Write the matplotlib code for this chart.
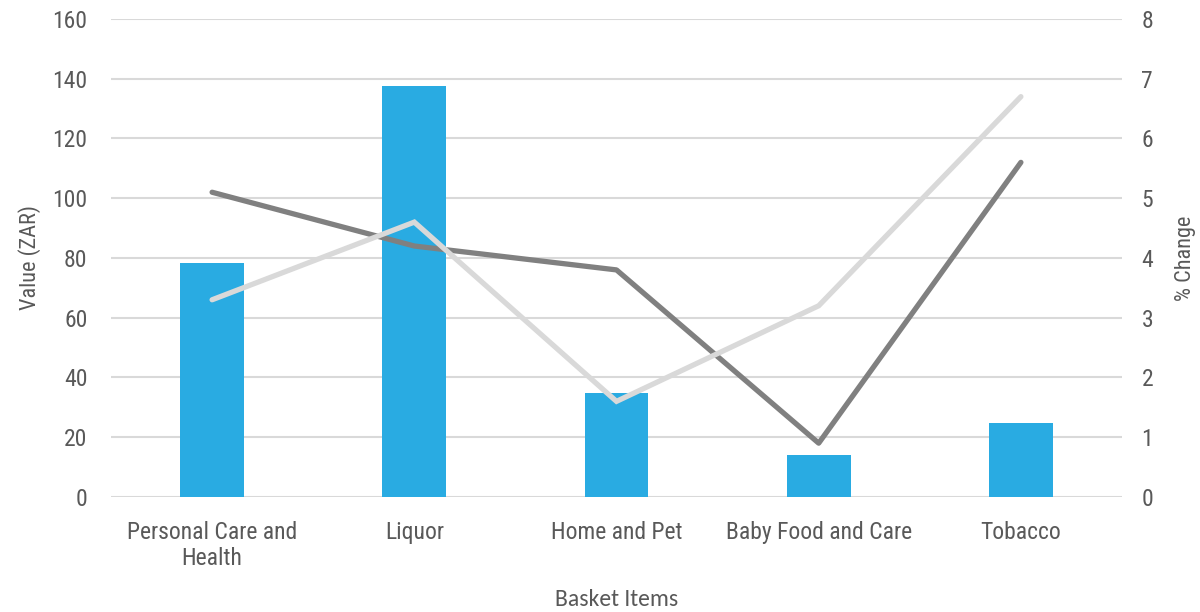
import matplotlib.pyplot as plt
from matplotlib import font_manager
import numpy as np

categories = ['Personal Care and\nHealth', 'Liquor', 'Home and Pet', 'Baby Food and Care', 'Tobacco']
value_zar = [78.3, 137.7, 34.7, 14.0, 24.9]
change_dark = [5.1, 4.2, 3.8, 0.9, 5.6]
change_light = [3.3, 4.6, 1.6, 3.2, 6.7]

text_col = '#595959'
grid_col = '#D9D9D9'


def pick(*cands):
    have = {f.name for f in font_manager.fontManager.ttflist}
    for c in cands:
        if c in have:
            return [c, 'DejaVu Sans']
    return ['DejaVu Sans']


narrow = pick('Roboto Condensed', 'Liberation Sans Narrow', 'Archivo Narrow')
title_font = pick('Carlito', 'Lato', 'Open Sans')
plt.rcParams['font.family'] = narrow

fig = plt.figure(figsize=(12, 6.12), dpi=100)
ax = fig.add_axes([0.0925, 0.188, 0.8425, 0.781])
x = np.arange(len(categories))

ax.bar(x, value_zar, width=0.316, color='#29ABE2', zorder=2)
ax.set_xlim(-0.5, len(categories) - 0.5)
ax.set_ylim(0, 160)
ax.set_yticks(range(0, 161, 20))
ax.grid(axis='y', color=grid_col, linewidth=1.5, zorder=0)
ax.set_axisbelow(True)
for s in ax.spines.values():
    s.set_visible(False)
ax.tick_params(length=0, labelsize=17, labelcolor=text_col)
ax.tick_params(axis='y', pad=17)
ax.tick_params(axis='x', pad=17)
ax.set_xticks(x)
ax.set_xticklabels(categories, linespacing=1.18)
ax.set_ylabel('Value (ZAR)', fontsize=16, color=text_col, labelpad=8)
ax.set_xlabel('Basket Items', fontsize=17, color=text_col, family=title_font, labelpad=14)

# percentage change lines on the right-hand axis
ax2 = ax.twinx()
ax2.plot(x, change_dark, color='#808080', linewidth=3.8, solid_capstyle='round', solid_joinstyle='round', zorder=3)
ax2.plot(x, change_light, color='#D9D9D9', linewidth=3.8, solid_capstyle='round', solid_joinstyle='miter', zorder=3)
ax2.set_ylim(0, 8)
ax2.set_yticks(range(0, 9))
for s in ax2.spines.values():
    s.set_visible(False)
ax2.tick_params(length=0, labelsize=17, labelcolor=text_col, pad=14)
ax2.set_ylabel('% Change', fontsize=16, color=text_col, labelpad=16)

fig.savefig('out.png', dpi=100)
